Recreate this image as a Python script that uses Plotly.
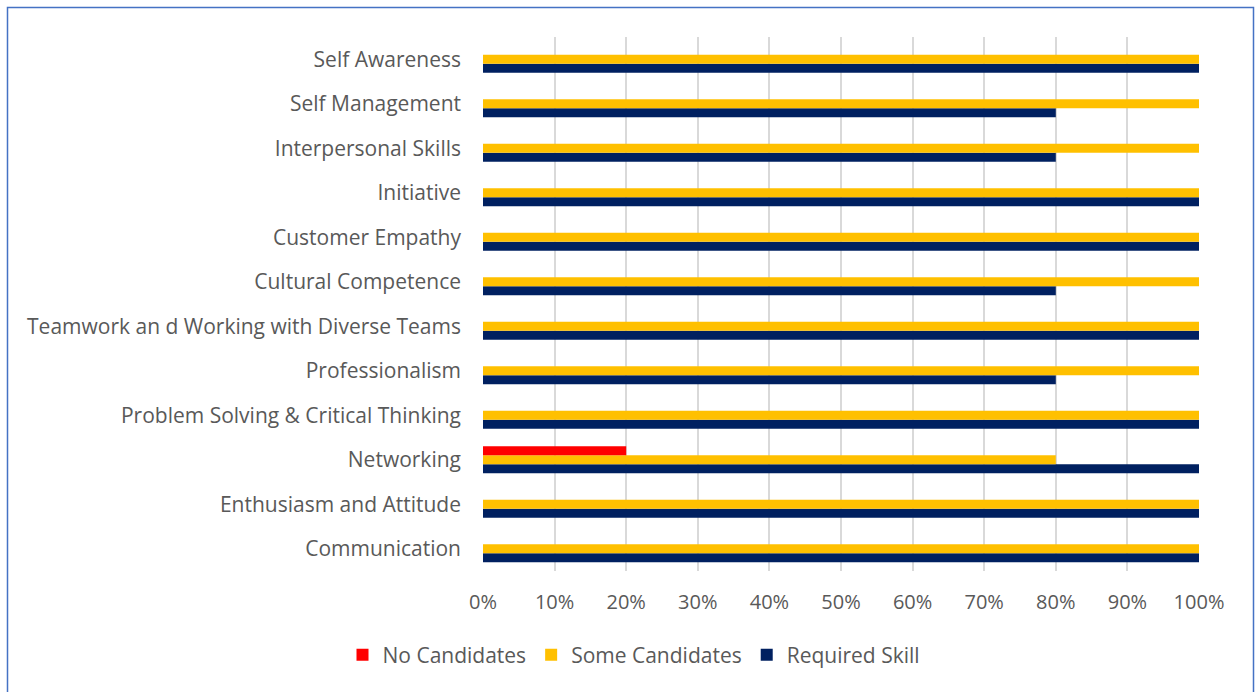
import plotly.graph_objects as go

# Skills, listed bottom to top as they appear on the axis
skills = [
    "Communication",
    "Enthusiasm and Attitude",
    "Networking",
    "Problem Solving & Critical Thinking",
    "Professionalism",
    "Teamwork an d Working with Diverse Teams",
    "Cultural Competence",
    "Customer Empathy",
    "Initiative",
    "Interpersonal Skills",
    "Self Management",
    "Self Awareness",
]

required_skill = [1.0, 1.0, 1.0, 1.0, 0.8, 1.0, 0.8, 1.0, 1.0, 0.8, 0.8, 1.0]
some_candidates = [1.0, 1.0, 0.8, 1.0, 1.0, 1.0, 1.0, 1.0, 1.0, 1.0, 1.0, 1.0]
no_candidates = [0, 0, 0.2, 0, 0, 0, 0, 0, 0, 0, 0, 0]

W, H = 1255, 692
L, R, T, B = 483, 56, 37, 121
FONT = "Open Sans, Segoe UI, sans-serif"
GREY = "#595959"
FS = 21

fig = go.Figure()
fig.add_trace(go.Bar(y=skills, x=required_skill, name="Required Skill", orientation="h",
                     marker=dict(color="#002060", line=dict(width=0)), legendrank=3))
fig.add_trace(go.Bar(y=skills, x=some_candidates, name="Some Candidates", orientation="h",
                     marker=dict(color="#FFC000", line=dict(width=0)), legendrank=2))
fig.add_trace(go.Bar(y=skills, x=no_candidates, name="No Candidates", orientation="h",
                     marker=dict(color="#FF0000", line=dict(width=0)), legendrank=1))

# outer frame around the chart area, in pixel terms converted to paper units
pw, ph = W - L - R, H - T - B
def px_x(v):
    return (v - L) / pw
def px_y(v):
    return (H - B - v) / ph

fig.add_shape(type="rect", xref="paper", yref="paper",
              x0=px_x(7.5), x1=px_x(1253.5), y0=px_y(700), y1=px_y(7.5),
              line=dict(color="#4472C4", width=1.5), fillcolor="rgba(0,0,0,0)", layer="above")

fig.update_layout(
    width=W, height=H,
    margin=dict(l=L, r=R, t=T, b=B),
    barmode="group",
    bargap=0.39,
    bargroupgap=0,
    plot_bgcolor="white",
    paper_bgcolor="white",
    font=dict(family=FONT, size=FS, color=GREY),
    showlegend=True,
    legend=dict(orientation="h", x=px_x(634), xanchor="center", y=px_y(655), yanchor="middle",
                font=dict(family=FONT, size=FS, color=GREY), traceorder="normal",
                itemwidth=30, itemsizing="constant"),
    xaxis=dict(range=[0, 1], tickformat=".0%", dtick=0.1, tick0=0,
               showgrid=True, gridcolor="#D9D9D9", gridwidth=1.5,
               zeroline=False, showline=False, ticks="", ticklabelstandoff=17,
               tickfont=dict(family=FONT, size=FS - 1, color=GREY)),
    yaxis=dict(categoryorder="array", categoryarray=skills, showgrid=False,
               zeroline=False, showline=False, ticks="", ticklabelstandoff=21,
               tickfont=dict(family=FONT, size=FS, color=GREY)),
)

fig.write_html("out.html")
